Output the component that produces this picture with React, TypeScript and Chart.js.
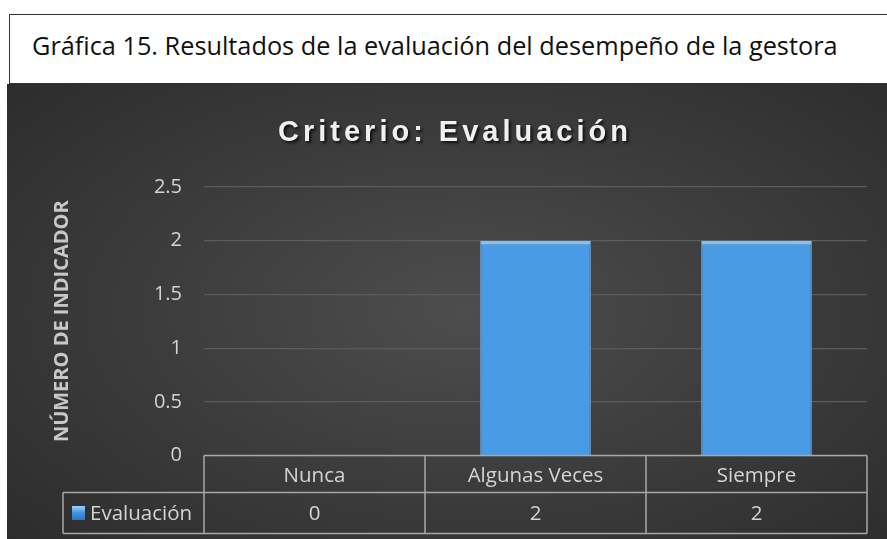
import React, { useEffect, useRef } from 'react';
import { Chart, registerables } from 'chart.js';

Chart.register(...registerables);

const pageTitle = 'Gráfica 15. Resultados de la evaluación del desempeño de la gestora';
const chartTitle = 'Criterio: Evaluación';
const yAxisTitle = 'NÚMERO DE INDICADOR';
const categories = ['Nunca', 'Algunas Veces', 'Siempre'];
const seriesName = 'Evaluación';
const seriesValues = [0, 2, 2];
const yMin = 0;
const yMax = 2.5;
const yStep = 0.5;

const FONT = '"Open Sans", "Noto Sans", sans-serif';
const TEXT_COLOR = '#d4d4d4';
const LINE_COLOR = '#a8a8a8';

const titlePlugin = {
  id: 'spacedTitle',
  afterDraw(chart: any) {
    const ctx = chart.ctx;
    ctx.save();
    ctx.font = 'bold 29px "Liberation Sans", Arial, sans-serif';
    (ctx as any).letterSpacing = '4px';
    ctx.textAlign = 'center';
    ctx.textBaseline = 'alphabetic';
    ctx.shadowColor = 'rgba(0,0,0,0.75)';
    ctx.shadowOffsetX = 2;
    ctx.shadowOffsetY = 2;
    ctx.shadowBlur = 3;
    ctx.fillStyle = '#f0f0f0';
    ctx.fillText(chartTitle, 448, 57);
    ctx.restore();
  },
};

const tablePlugin = {
  id: 'dataTable',
  afterDraw(chart: any) {
    const { ctx, chartArea } = chart;
    const x = chart.scales.x;
    const half = (x.getPixelForValue(1) - x.getPixelForValue(0)) / 2;
    const top = chartArea.bottom;
    const r1 = top + 37;
    const r2 = top + 78;
    const legendLeft = 56;
    const edges: number[] = [];
    categories.forEach((_, i) => edges.push(x.getPixelForValue(i) - half));
    edges.push(x.getPixelForValue(categories.length - 1) + half);
    const right = edges[edges.length - 1];

    ctx.save();
    ctx.strokeStyle = LINE_COLOR;
    ctx.lineWidth = 1.5;
    ctx.beginPath();
    ctx.moveTo(edges[0], top); ctx.lineTo(right, top);
    ctx.moveTo(legendLeft, r1); ctx.lineTo(right, r1);
    ctx.moveTo(legendLeft, r2); ctx.lineTo(right, r2);
    edges.forEach((e) => { ctx.moveTo(e, top); ctx.lineTo(e, r2); });
    ctx.moveTo(legendLeft, r1); ctx.lineTo(legendLeft, r2);
    ctx.stroke();

    ctx.fillStyle = TEXT_COLOR;
    ctx.font = '20.5px ' + FONT;
    ctx.textAlign = 'center';
    ctx.textBaseline = 'middle';
    categories.forEach((c, i) => {
      const cx = x.getPixelForValue(i);
      ctx.fillText(c, cx, (top + r1) / 2 + 2);
      ctx.fillText(String(seriesValues[i]), cx, (r1 + r2) / 2 + 1);
    });

    // legend key
    const ky = (r1 + r2) / 2;
    const g = ctx.createLinearGradient(0, ky - 7, 0, ky + 7);
    g.addColorStop(0, '#9fd3ff');
    g.addColorStop(0.5, '#3f92e0');
    g.addColorStop(1, '#2a78c8');
    ctx.fillStyle = g;
    ctx.fillRect(legendLeft + 9, ky - 7, 13, 14);
    ctx.fillStyle = TEXT_COLOR;
    ctx.textAlign = 'left';
    ctx.fillText(seriesName, legendLeft + 27, ky + 1);
    ctx.restore();
  },
};

export default function App() {
  const canvasRef = useRef<HTMLCanvasElement | null>(null);

  useEffect(() => {
    const canvas = canvasRef.current;
    if (!canvas) return;
    const chart = new Chart(canvas, {
      type: 'bar',
      data: {
        labels: categories,
        datasets: [
          {
            label: seriesName,
            data: seriesValues,
            backgroundColor: '#4a9be5',
            borderColor: '#7fc2f6',
            borderWidth: { top: 4, left: 1, right: 1, bottom: 0 },
            barPercentage: 0.5,
            categoryPercentage: 1,
          },
        ],
      },
      options: {
        responsive: false,
        animation: false,
        layout: { padding: { left: 0, right: 20, top: 103, bottom: 83.5 } },
        plugins: {
          legend: { display: false },
          tooltip: { enabled: false },
          title: { display: false },
        },
        scales: {
          x: {
            display: false,
          },
          y: {
            min: yMin,
            max: yMax,
            border: { display: false },
            grid: { color: '#5c5c5c', lineWidth: 1.2, drawTicks: false },
            ticks: {
              stepSize: yStep,
              padding: 22,
              color: TEXT_COLOR,
              font: { family: FONT, size: 20 },
              callback: (v: any) => String(v),
            },
            title: {
              display: true,
              text: yAxisTitle,
              color: '#c8c8c8',
              font: { family: FONT, size: 20, weight: 'bold' },
              padding: { top: 43, bottom: 0 },
            },
            afterFit: (scale: any) => {
              scale.width = 197;
            },
          },
        },
      },
      plugins: [titlePlugin, tablePlugin],
    });
    return () => chart.destroy();
  }, []);

  return (
    <div style={{ position: 'fixed', left: 0, top: 0, width: 887, height: 539, background: '#ffffff', overflow: 'hidden' }}>
      <div
        style={{
          position: 'absolute',
          left: 9,
          top: 14,
          width: 900,
          height: 70,
          border: '1.5px solid #333',
          background: '#fff',
          boxSizing: 'border-box',
        }}
      >
        <span
          style={{
            position: 'absolute',
            left: 22,
            top: 13,
            fontFamily: FONT,
            fontSize: 25.3,
            color: '#111',
            whiteSpace: 'nowrap',
            letterSpacing: '0px',
          }}
        >
          {pageTitle}
        </span>
      </div>
      <div
        style={{
          position: 'absolute',
          left: 7,
          top: 84,
          width: 880,
          height: 455,
          background: 'radial-gradient(ellipse 75% 80% at 52% 50%, #4d4d4d 0%, #3d3d3d 45%, #2a2a2a 100%)',
        }}
      >
        <canvas ref={canvasRef} width={880} height={455} style={{ display: 'block', width: 880, height: 455 }} />
      </div>
    </div>
  );
}
